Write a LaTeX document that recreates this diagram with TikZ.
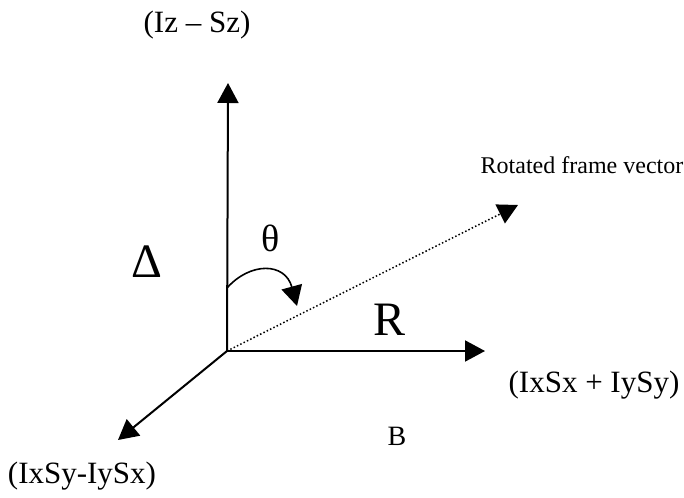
\documentclass[tikz,border=0pt]{standalone}
\usepackage{fontspec}
\setmainfont{Liberation Serif}
\usetikzlibrary{arrows.meta}
\tikzset{
  axis/.style={line width=2pt,-{Triangle[length=20pt,width=21pt]}},
  lbl/.style={inner sep=0pt,font=\fontsize{31}{36}\selectfont},
  small/.style={inner sep=0pt,font=\fontsize{24}{28}\selectfont},
  big/.style={inner sep=0pt,font=\fontsize{48}{54}\selectfont},
  ang/.style={inner sep=0pt,font=\fontsize{38}{44}\selectfont}
}
\begin{document}
\begin{tikzpicture}[x=1pt,y=-1pt]
\useasboundingbox (0,0) rectangle (684,497);
\coordinate (O) at (227,351);
\coordinate (Z) at (228,83);
\coordinate (X) at (485,351);
\coordinate (D) at (118,440);
\coordinate (V) at (518,205);
\coordinate (c0) at (227,288);
\coordinate (c1) at (297,306);
\draw[axis] (O) -- (Z);
\draw[axis] (O) -- (X);
\draw[axis] (O) -- (D);
\draw[line width=1.5pt,dash pattern=on 1.5pt off 2.2pt,-{Triangle[length=20pt,width=21pt]}] (O) -- (V);
\draw[line width=1.6pt,-{Triangle[length=20pt,width=21pt]}] (c0) .. controls (250,262) and (285,262) .. (c1);
\node[lbl] (lz) at (197,25) {(Iz – Sz)};
\node[small] (lv) at (582,165) {Rotated frame vector};
\node[lbl] (lx) at (594,385) {(IxSx + IySy)};
\node[lbl] (ld) at (82,476) {(IxSy-IySx)};
\node[small,font=\fontsize{28}{32}\selectfont] (lb) at (397,436) {B};
\node[big] (ldelta) at (147,262) {Δ};
\node[big] (lr) at (390,320) {R};
\node[ang] (lt) at (271,238) {θ};
\end{tikzpicture}
\end{document}
